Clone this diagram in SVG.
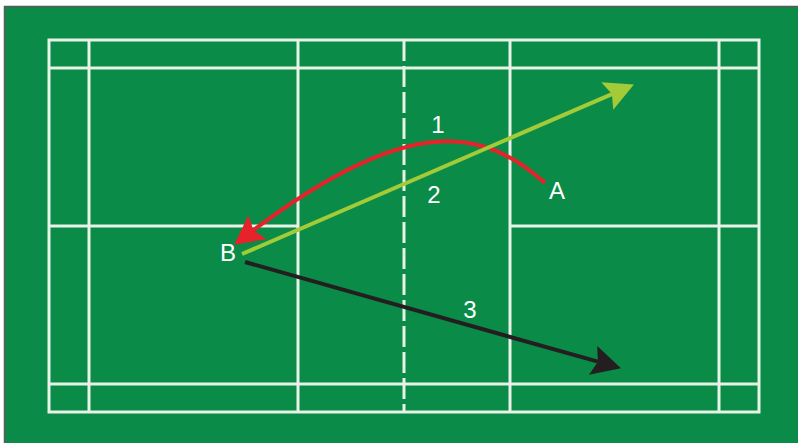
<svg xmlns="http://www.w3.org/2000/svg" width="798" height="443" viewBox="0 0 798 443">
  <style>
    .court { stroke: #e6f3e6; stroke-width: 3; fill: none; }
    .lbl { font-family: "Liberation Sans", Arial, sans-serif; font-size: 24px; fill: #ffffff; text-anchor: middle; }
  </style>
  <defs>
    <marker id="headG" markerUnits="userSpaceOnUse" markerWidth="32" markerHeight="32" refX="5" refY="15" orient="auto">
      <path d="M0,0 L29,15 L0,30 L5,15 Z" fill="#a3cb38"/>
    </marker>
    <marker id="headR" markerUnits="userSpaceOnUse" markerWidth="32" markerHeight="32" refX="5" refY="15" orient="auto">
      <path d="M0,0 L29,15 L0,30 L5,15 Z" fill="#e8222a"/>
    </marker>
    <marker id="headK" markerUnits="userSpaceOnUse" markerWidth="32" markerHeight="32" refX="5" refY="15" orient="auto">
      <path d="M0,0 L29,15 L0,30 L5,15 Z" fill="#231f20"/>
    </marker>
  </defs>
  <rect x="0" y="0" width="798" height="443" fill="#ffffff"/>
  <rect x="4.5" y="6.5" width="800" height="440" fill="#0b8b48" stroke="#5a5a5a" stroke-width="1.5"/>
  <g id="court">
    <rect class="court" x="49" y="40" width="710" height="372"/>
    <line class="court" x1="49" y1="68" x2="759" y2="68"/>
    <line class="court" x1="49" y1="384" x2="759" y2="384"/>
    <line class="court" x1="89" y1="40" x2="89" y2="412"/>
    <line class="court" x1="719" y1="40" x2="719" y2="412"/>
    <line class="court" x1="298" y1="40" x2="298" y2="412"/>
    <line class="court" x1="510" y1="40" x2="510" y2="412"/>
    <line class="court" x1="49" y1="226" x2="298" y2="226"/>
    <line class="court" x1="510" y1="226" x2="759" y2="226"/>
    <line class="court" x1="404" y1="40" x2="404" y2="412" stroke-dasharray="21 5"/>
  </g>
  <g id="connectors" fill="none" stroke-width="4">
    <path id="shot1" d="M545,183 C485,130 413,110 253.4,230.2" stroke="#e8222a" marker-end="url(#headR)"/>
    <line id="shot2" x1="242" y1="254" x2="611.9" y2="94.1" stroke="#a3cb38" marker-end="url(#headG)"/>
    <line id="shot3" x1="245" y1="262" x2="597.9" y2="361.7" stroke="#231f20" marker-end="url(#headK)"/>
  </g>
  <g id="labels">
    <text class="lbl" x="438" y="133">1</text>
    <text class="lbl" x="434" y="203">2</text>
    <text class="lbl" x="470" y="318">3</text>
    <text id="A" class="lbl" x="557" y="199">A</text>
    <text id="B" class="lbl" x="228" y="261">B</text>
  </g>
</svg>
